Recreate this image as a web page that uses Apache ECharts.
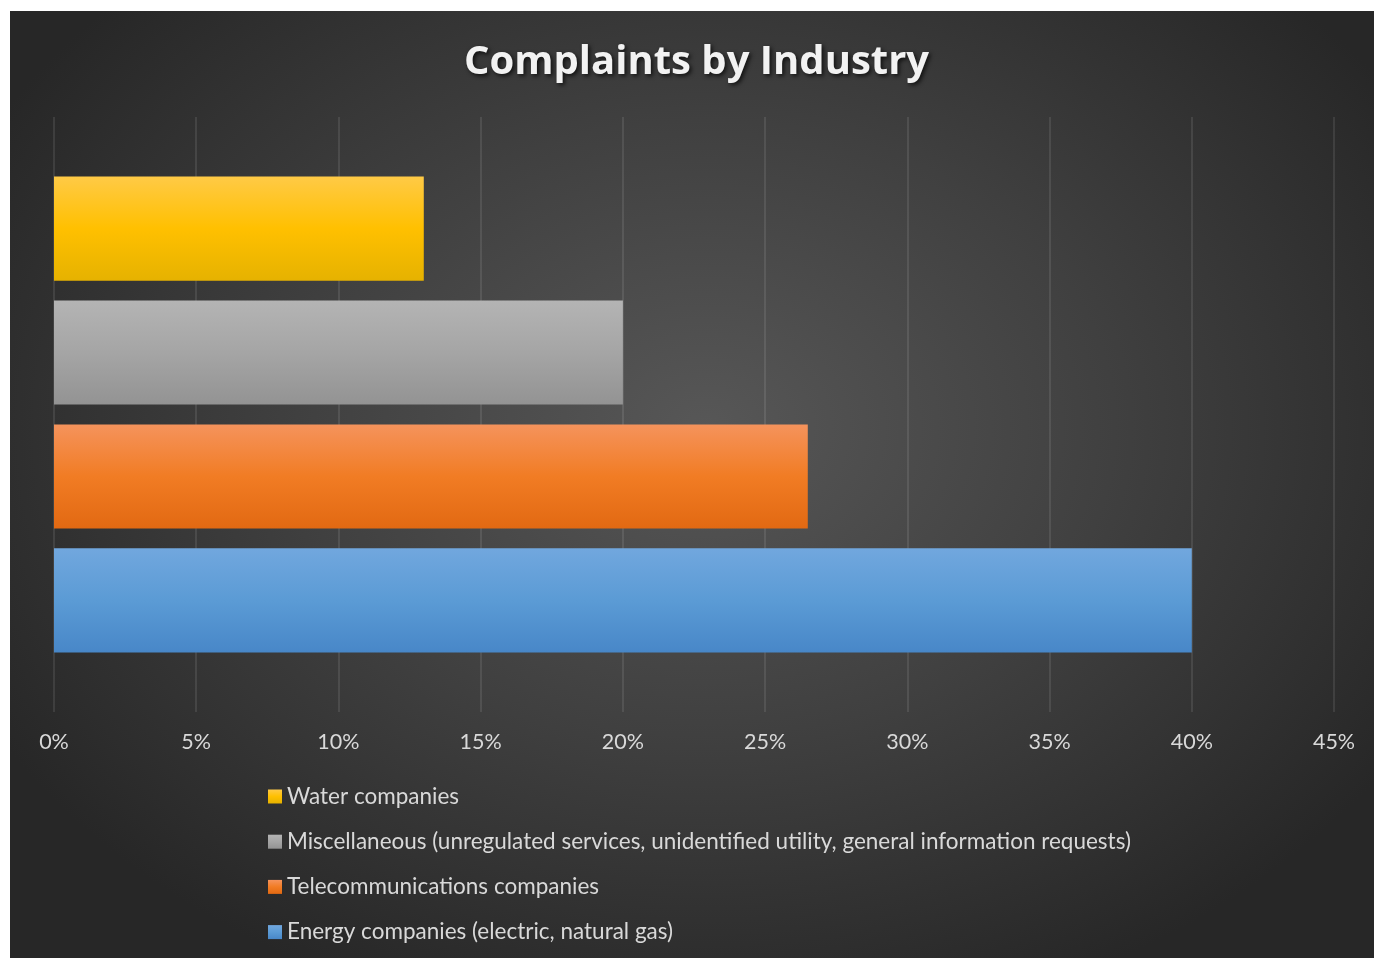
<!DOCTYPE html>
<html>
<head>
<meta charset="utf-8">
<script src="https://cdn.jsdelivr.net/npm/echarts@6/dist/echarts.min.js"></script>
<style>
  html, body { margin: 0; padding: 0; background: #fff; }
  #bg {
    position: absolute; left: 10px; top: 11px; width: 1364px; height: 947px;
    background: radial-gradient(ellipse 60% 65% at 51% 44%, #575757 0%, #404040 50%, #272727 100%);
  }
  #chart { position: absolute; left: 0; top: 0; width: 1374px; height: 959px; }
</style>
</head>
<body>
<div id="bg"></div>
<div id="chart"></div>
<script>
const categories = [''];
const seriesNames = [
  'Water companies',
  'Miscellaneous (unregulated services, unidentified utility, general information requests)',
  'Telecommunications companies',
  'Energy companies (electric, natural gas)',
];
const water = [0.13];
const misc = [0.20];
const telecom = [0.265];
const energy = [0.40];
const tickMax = 0.45;
const tickStep = 0.05;

const grad = (top, mid, bottom) => new echarts.graphic.LinearGradient(0, 0, 0, 1, [
  { offset: 0, color: top },
  { offset: 0.5, color: mid },
  { offset: 1, color: bottom },
]);

const colors = [
  grad('#ffca46', '#ffc000', '#e6b200'),
  grad('#b4b4b4', '#a5a5a5', '#939393'),
  grad('#f5935c', '#f17c24', '#e26912'),
  grad('#71a7de', '#5b9bd5', '#4887c8'),
];
const legendColors = ['#ffc000', '#a5a5a5', '#ed7d31', '#5b9bd5'];
const values = [water, misc, telecom, energy];

const chart = echarts.init(document.getElementById('chart'));
chart.setOption({
  title: {
    text: 'Complaints by Industry',
    left: 459,
    top: 38,
    textStyle: {
      color: '#f2f2f2',
      fontFamily: 'Open Sans',
      fontWeight: 'bold',
      fontSize: 40,
      textShadowColor: 'rgba(0,0,0,0.7)',
      textShadowBlur: 4,
      textShadowOffsetX: 2,
      textShadowOffsetY: 2,
    },
  },
  legend: {
    orient: 'vertical',
    left: 263,
    top: 780,
    itemGap: 22.2,
    itemWidth: 14,
    itemHeight: 14,
    icon: 'rect',
    data: seriesNames,
    textStyle: { color: '#d9d9d9', fontFamily: 'Lato', fontSize: 22.5 },
  },
  grid: { left: 54, right: 40, top: 117, bottom: 247 },
  xAxis: {
    type: 'value',
    min: 0,
    max: tickMax,
    interval: tickStep,
    axisLine: { show: false },
    axisTick: { show: false },
    axisLabel: {
      color: '#d9d9d9',
      fontFamily: 'Lato',
      fontSize: 21.5,
      margin: 19,
      formatter: (v) => Math.round(v * 100) + '%',
    },
    splitLine: { lineStyle: { color: 'rgba(255,255,255,0.13)', width: 1.5 } },
  },
  yAxis: {
    type: 'category',
    data: categories,
    axisLine: { show: false },
    axisTick: { show: false },
    axisLabel: { show: false },
  },
  series: seriesNames.map((name, i) => ({
    name,
    type: 'bar',
    data: values[i],
    barGap: '19%',
    barCategoryGap: '20%',
    color: legendColors[i],
    itemStyle: {
      color: colors[i],
      shadowColor: 'rgba(0,0,0,0.55)',
      shadowBlur: 8,
      shadowOffsetX: 3,
      shadowOffsetY: 3,
    },
  })),
});
</script>
</body>
</html>
